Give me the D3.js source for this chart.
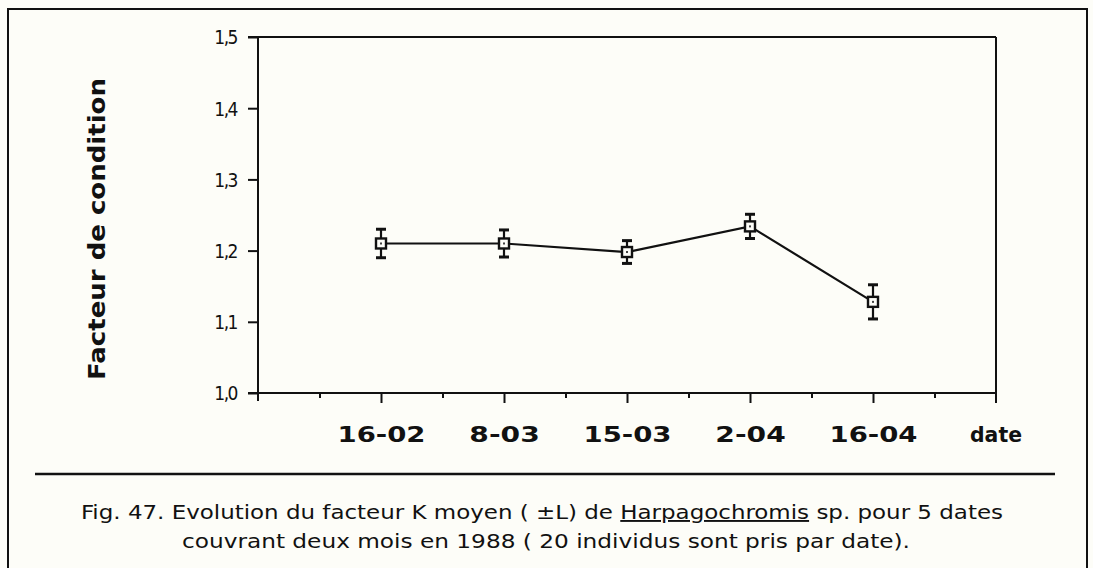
<!DOCTYPE html>
<html>
<head>
<meta charset="utf-8">
<script src="https://cdn.jsdelivr.net/npm/d3@7"></script>
<style>
  html, body { margin: 0; padding: 0; background: #fdfdf8; }
  svg { display: block; }
  text { fill: #111; }
</style>
</head>
<body>
<svg id="chart" width="1093" height="568"></svg>
<script>
// Sampling dates (1988) and mean condition factor K with its ± L interval
const dates = ["16-02", "8-03", "15-03", "2-04", "16-04"];
const kMean = [1.21, 1.21, 1.198, 1.234, 1.128];
const kErr  = [0.02, 0.019, 0.016, 0.017, 0.024];
const yTicks = [1.0, 1.1, 1.2, 1.3, 1.4, 1.5];
const yTickLabels = ["1,0", "1,1", "1,2", "1,3", "1,4", "1,5"];
const yTitle = "Facteur de condition";
const xTitle = "date";
const caption1 = ["Fig. 47.  Evolution du facteur K moyen ( ±L) de ", "Harpagochromis", " sp. pour 5 dates"];
const caption2 = "couvrant deux mois en 1988 ( 20 individus sont pris par date).";

const svg = d3.select("#chart");
const ink = "#111";

// outer frame
svg.append("path")
  .attr("d", "M8,570 V9 H1087 V570")
  .attr("fill", "none").attr("stroke", ink).attr("stroke-width", 2);

const plotL = 258, plotR = 996, plotT = 37, plotB = 393;
const labelBase = 442;

// one slot per date, with half-slot minor ticks
const x = d3.scaleLinear().domain([0, dates.length + 1]).range([plotL, plotR]);
const y = d3.scaleLinear().domain([1.0, 1.5]).range([plotB, plotT]);

const slot = (i) => i + 1;

// y axis
const yAxis = svg.append("g")
  .attr("transform", `translate(${plotL},0)`)
  .call(d3.axisLeft(y).tickValues(yTicks).tickSize(10).tickSizeOuter(0)
    .tickFormat((d, i) => yTickLabels[i]));
yAxis.select(".domain").remove();
yAxis.selectAll(".tick line").attr("stroke", ink).attr("stroke-width", 2);
yAxis.selectAll(".tick text")
  .attr("x", -21)
  .attr("dy", "0.36em")
  .style("font-family", "'DejaVu Sans'")
  .style("font-stretch", "condensed")
  .style("font-size", "19px")
  .style("letter-spacing", "-1.5px")
  .attr("fill", ink);

// x axis: minor ticks at half slots, major ticks at the dates
const minorVals = d3.range(0.5, dates.length + 1, 1);
const xMinor = svg.append("g")
  .attr("transform", `translate(0,${plotB})`)
  .call(d3.axisBottom(x).tickValues(minorVals).tickSize(5).tickSizeOuter(0).tickFormat(""));
xMinor.select(".domain").remove();
xMinor.selectAll(".tick line").attr("stroke", ink).attr("stroke-width", 2);

const xMajor = svg.append("g")
  .attr("transform", `translate(0,${plotB})`)
  .call(d3.axisBottom(x).tickValues(dates.map((d, i) => slot(i))).tickSize(10).tickSizeOuter(0)
    .tickFormat((d, i) => dates[i]));
xMajor.select(".domain").remove();
xMajor.selectAll(".tick line").attr("stroke", ink).attr("stroke-width", 2);
xMajor.selectAll(".tick text")
  .attr("y", labelBase - plotB)
  .attr("dy", 0)
  .style("font-family", "'DejaVu Sans'")
  .style("font-weight", "bold")
  .style("font-size", "22px")
  .attr("textLength", (d, i) => dates[i].length * 17.6)
  .attr("lengthAdjust", "spacingAndGlyphs")
  .attr("fill", ink);

// plot frame: bottom axis, left axis, top and right edges
const frame = svg.append("g").attr("fill", "none").attr("stroke", ink).attr("stroke-width", 2);
frame.append("line").attr("x1", plotL - 10).attr("x2", plotR).attr("y1", y(1.0)).attr("y2", y(1.0));
frame.append("line").attr("x1", plotL - 10).attr("x2", plotR).attr("y1", y(1.5)).attr("y2", y(1.5));
frame.append("line").attr("x1", plotL).attr("x2", plotL).attr("y1", y(1.5)).attr("y2", y(1.0) + 8);
frame.append("line").attr("x1", plotR).attr("x2", plotR).attr("y1", y(1.5)).attr("y2", y(1.0) + 10);

// axis titles
svg.append("text")
  .attr("x", x(dates.length + 1))
  .attr("y", labelBase)
  .attr("text-anchor", "middle")
  .attr("textLength", 52)
  .attr("lengthAdjust", "spacingAndGlyphs")
  .style("font-family", "'DejaVu Sans'")
  .style("font-weight", "bold")
  .style("font-size", "22px")
  .text(xTitle);

svg.append("text")
  .attr("transform", `translate(105,229) rotate(-90)`)
  .attr("text-anchor", "middle")
  .attr("textLength", 302)
  .attr("lengthAdjust", "spacingAndGlyphs")
  .style("font-family", "'DejaVu Sans'")
  .style("font-weight", "900")
  .style("font-size", "23px")
  .text(yTitle);

// data series
const pts = dates.map((d, i) => ({ d, k: kMean[i], e: kErr[i], s: slot(i) }));

svg.append("path")
  .datum(pts)
  .attr("fill", "none").attr("stroke", ink).attr("stroke-width", 2.2)
  .attr("d", d3.line().x(p => x(p.s)).y(p => y(p.k)));

const marks = svg.append("g").selectAll("g").data(pts).join("g")
  .attr("transform", p => `translate(${x(p.s)},0)`);

marks.append("line")
  .attr("y1", p => y(p.k + p.e)).attr("y2", p => y(p.k - p.e))
  .attr("stroke", ink).attr("stroke-width", 2.2);
marks.append("line")
  .attr("x1", -5).attr("x2", 5)
  .attr("y1", p => y(p.k + p.e)).attr("y2", p => y(p.k + p.e))
  .attr("stroke", ink).attr("stroke-width", 3);
marks.append("line")
  .attr("x1", -5).attr("x2", 5)
  .attr("y1", p => y(p.k - p.e)).attr("y2", p => y(p.k - p.e))
  .attr("stroke", ink).attr("stroke-width", 3);
marks.append("rect")
  .attr("x", -5).attr("y", p => y(p.k) - 5)
  .attr("width", 10).attr("height", 10)
  .attr("fill", "#fdfdf8").attr("stroke", ink).attr("stroke-width", 2.4);
marks.append("rect")
  .attr("x", -1).attr("y", p => y(p.k) - 1)
  .attr("width", 2).attr("height", 2)
  .attr("fill", "#444");

// separator and caption
svg.append("line")
  .attr("x1", 35).attr("x2", 1055).attr("y1", 474).attr("y2", 474)
  .attr("stroke", ink).attr("stroke-width", 2.4);

const cap = svg.append("text")
  .attr("x", 81).attr("y", 519)
  .attr("textLength", 922)
  .attr("lengthAdjust", "spacingAndGlyphs")
  .style("font-family", "'DejaVu Sans'")
  .style("font-stretch", "condensed")
  .style("font-size", "19px");
caption1.forEach((t, i) => {
  const ts = cap.append("tspan").text(t);
  if (i === 1) ts.style("text-decoration", "underline");
});

svg.append("text")
  .attr("x", 182).attr("y", 548)
  .attr("textLength", 728)
  .attr("lengthAdjust", "spacingAndGlyphs")
  .style("font-family", "'DejaVu Sans'")
  .style("font-stretch", "condensed")
  .style("font-size", "19px")
  .text(caption2);
</script>
</body>
</html>
